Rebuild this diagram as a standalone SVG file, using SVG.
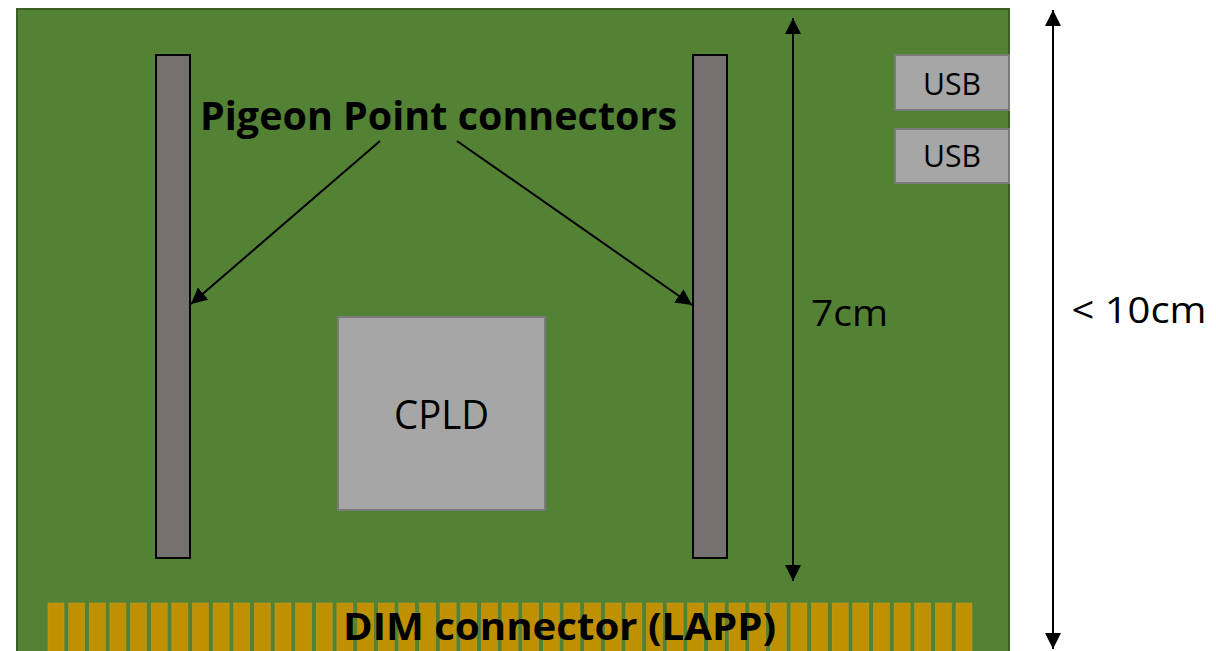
<svg xmlns="http://www.w3.org/2000/svg" width="1216" height="651" viewBox="0 0 1216 651">
<defs>
<style>
.board{fill:#548235;stroke:#3d5f26;stroke-width:2}
.pin{fill:#bf9000;stroke:#c9a02a;stroke-width:0.5}
.conn{fill:#767171;stroke:#000;stroke-width:2}
.chip{fill:#a6a6a6;stroke:#7a7a7a;stroke-width:2}
.line{stroke:#000;stroke-width:2;fill:none}
.t{font-family:"Open Sans","Liberation Sans",sans-serif;fill:#000}
.b{font-weight:bold}
</style>
<marker id="ah" viewBox="0 0 10 10" refX="10" refY="5" markerWidth="8" markerHeight="8" orient="auto-start-reverse" markerUnits="strokeWidth">
<path d="M0,0 L10,5 L0,10 z" fill="#000"/>
</marker>
</defs>
<rect width="1216" height="651" fill="#fff"/>
<g id="board">
<rect class="board" x="17" y="9" width="992" height="652"/>
</g>
<g id="dim-connector">
<g id="pins">
<rect class="pin" x="48" y="603" width="16" height="50"/>
<rect class="pin" x="68.64" y="603" width="16" height="50"/>
<rect class="pin" x="89.27" y="603" width="16" height="50"/>
<rect class="pin" x="109.91" y="603" width="16" height="50"/>
<rect class="pin" x="130.55" y="603" width="16" height="50"/>
<rect class="pin" x="151.18" y="603" width="16" height="50"/>
<rect class="pin" x="171.82" y="603" width="16" height="50"/>
<rect class="pin" x="192.45" y="603" width="16" height="50"/>
<rect class="pin" x="213.09" y="603" width="16" height="50"/>
<rect class="pin" x="233.73" y="603" width="16" height="50"/>
<rect class="pin" x="254.36" y="603" width="16" height="50"/>
<rect class="pin" x="275" y="603" width="16" height="50"/>
<rect class="pin" x="295.64" y="603" width="16" height="50"/>
<rect class="pin" x="316.27" y="603" width="16" height="50"/>
<rect class="pin" x="336.91" y="603" width="16" height="50"/>
<rect class="pin" x="357.55" y="603" width="16" height="50"/>
<rect class="pin" x="378.18" y="603" width="16" height="50"/>
<rect class="pin" x="398.82" y="603" width="16" height="50"/>
<rect class="pin" x="419.45" y="603" width="16" height="50"/>
<rect class="pin" x="440.09" y="603" width="16" height="50"/>
<rect class="pin" x="460.73" y="603" width="16" height="50"/>
<rect class="pin" x="481.36" y="603" width="16" height="50"/>
<rect class="pin" x="502" y="603" width="16" height="50"/>
<rect class="pin" x="522.64" y="603" width="16" height="50"/>
<rect class="pin" x="543.27" y="603" width="16" height="50"/>
<rect class="pin" x="563.91" y="603" width="16" height="50"/>
<rect class="pin" x="584.55" y="603" width="16" height="50"/>
<rect class="pin" x="605.18" y="603" width="16" height="50"/>
<rect class="pin" x="625.82" y="603" width="16" height="50"/>
<rect class="pin" x="646.45" y="603" width="16" height="50"/>
<rect class="pin" x="667.09" y="603" width="16" height="50"/>
<rect class="pin" x="687.73" y="603" width="16" height="50"/>
<rect class="pin" x="708.36" y="603" width="16" height="50"/>
<rect class="pin" x="729" y="603" width="16" height="50"/>
<rect class="pin" x="749.64" y="603" width="16" height="50"/>
<rect class="pin" x="770.27" y="603" width="16" height="50"/>
<rect class="pin" x="790.91" y="603" width="16" height="50"/>
<rect class="pin" x="811.55" y="603" width="16" height="50"/>
<rect class="pin" x="832.18" y="603" width="16" height="50"/>
<rect class="pin" x="852.82" y="603" width="16" height="50"/>
<rect class="pin" x="873.45" y="603" width="16" height="50"/>
<rect class="pin" x="894.09" y="603" width="16" height="50"/>
<rect class="pin" x="914.73" y="603" width="16" height="50"/>
<rect class="pin" x="935.36" y="603" width="16" height="50"/>
<rect class="pin" x="956" y="603" width="16" height="50"/>
</g>
<text class="t b" x="559.5" y="640" font-size="37" text-anchor="middle" textLength="433" lengthAdjust="spacingAndGlyphs">DIM connector (LAPP)</text>
</g>
<g id="pp-left"><rect class="conn" x="156" y="55" width="34" height="503"/></g>
<g id="pp-right"><rect class="conn" x="693" y="55" width="34" height="503"/></g>
<g id="cpld">
<rect class="chip" x="338" y="317" width="207" height="193"/>
<text class="t" x="441.5" y="429" font-size="41" text-anchor="middle" textLength="95" lengthAdjust="spacingAndGlyphs">CPLD</text>
</g>
<g id="usb1">
<rect class="chip" x="895" y="55" width="114" height="55"/>
<text class="t" x="952" y="95" font-size="31" text-anchor="middle" textLength="58" lengthAdjust="spacingAndGlyphs">USB</text>
</g>
<g id="usb2">
<rect class="chip" x="895" y="129" width="114" height="54"/>
<text class="t" x="952" y="167" font-size="31" text-anchor="middle" textLength="58" lengthAdjust="spacingAndGlyphs">USB</text>
</g>
<g id="label-pp">
<text class="t b" x="438.5" y="130" font-size="40" text-anchor="middle" textLength="477" lengthAdjust="spacingAndGlyphs">Pigeon Point connectors</text>
</g>
<g id="label-7cm">
<text class="t" x="849.5" y="326" font-size="37" text-anchor="middle" textLength="77" lengthAdjust="spacingAndGlyphs">7cm</text>
</g>
<g id="label-10cm">
<text class="t" x="1139" y="323" font-size="37" text-anchor="middle" textLength="135" lengthAdjust="spacingAndGlyphs">&lt; 10cm</text>
</g>
<g id="connectors">
<line class="line" x1="380" y1="141" x2="191" y2="304" marker-end="url(#ah)"/>
<line class="line" x1="457" y1="141" x2="692" y2="305" marker-end="url(#ah)"/>
<line class="line" x1="793" y1="18" x2="793" y2="581" marker-start="url(#ah)" marker-end="url(#ah)"/>
<line class="line" x1="1053" y1="10" x2="1053" y2="649" marker-start="url(#ah)" marker-end="url(#ah)"/>
</g>
</svg>
